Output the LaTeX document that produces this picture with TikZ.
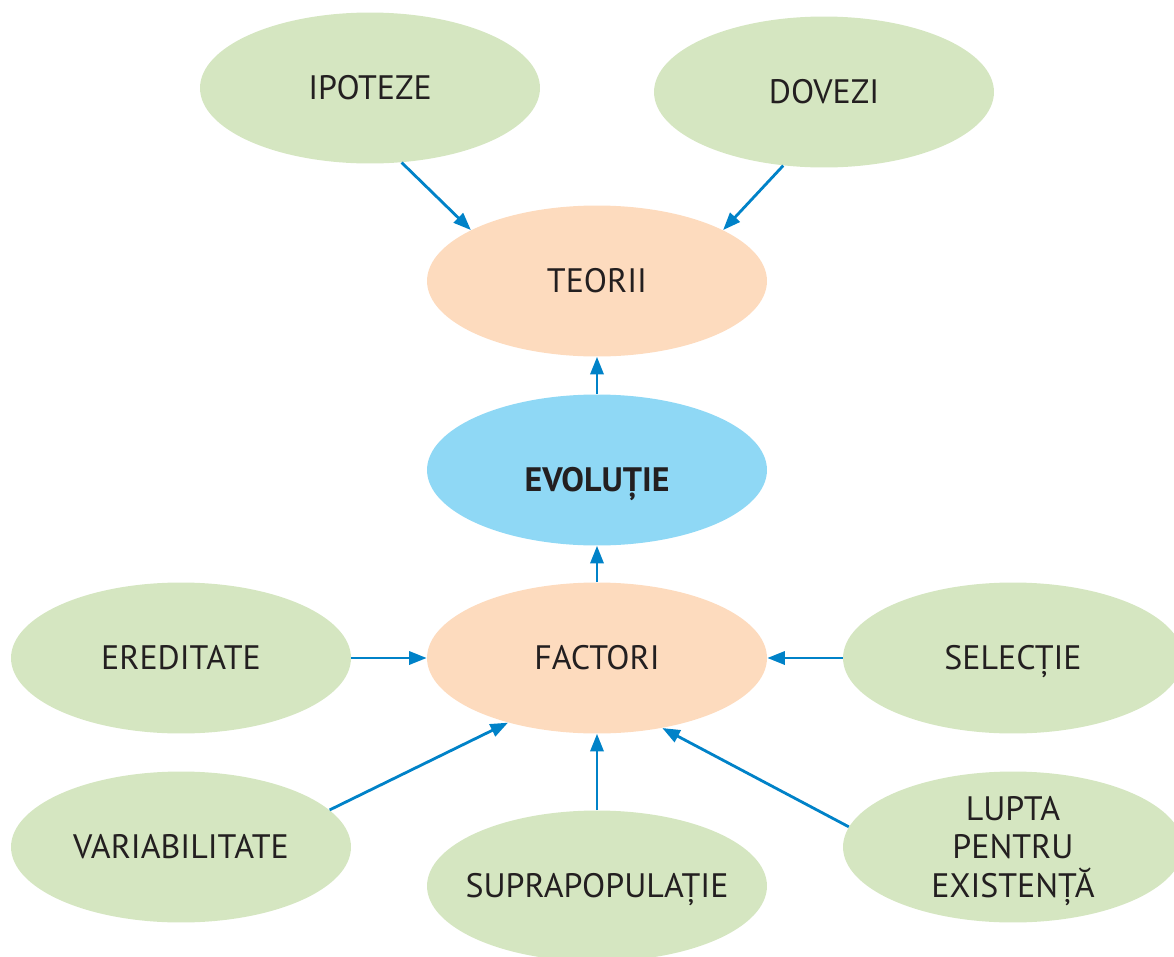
\documentclass[tikz,border=0pt]{standalone}
\usepackage{fontspec}
\setmainfont{PT Sans}
\usepackage{xcolor}
\usetikzlibrary{arrows.meta,shapes.geometric}
\definecolor{leafgreen}{RGB}{213,230,193}
\definecolor{peach}{RGB}{253,219,190}
\definecolor{skyblue}{RGB}{143,216,245}
\definecolor{arrowblue}{RGB}{0,130,200}
\definecolor{inkdark}{RGB}{35,31,32}

\begin{document}
\begin{tikzpicture}[x=0.02cm,y=-0.02cm,>={Triangle[length=10pt,width=7.5pt]},
  ell/.style={ellipse,inner sep=0pt,minimum width=6.8cm,minimum height=3.02cm,
              align=center,text=inkdark,text height=13.5pt,text depth=0pt,
              font=\fontsize{19.3}{21.8}\selectfont},
  ge/.style={ell,fill=leafgreen},
  pe/.style={ell,fill=peach},
  be/.style={ell,fill=skyblue,font=\fontsize{19.3}{21.8}\selectfont\bfseries},
  link/.style={->,line width=1.6pt,color=arrowblue}]
  \useasboundingbox (0,0) rectangle (1174,957);

  % top row and the centre column
  \node[ge](ipoteze) at (370,88)   {IPOTEZE};
  \node[ge](dovezi)  at (824,92)   {DOVEZI};
  \node[pe](teorii)  at (597,281)  {TEORII};
  \node[be,text height=25pt](evol) at (597,470) {EVOLUȚIE};
  \node[pe](factori) at (597,658)  {FACTORI};

  % the factors around it
  \node[ge](ered)    at (181,658)  {EREDITATE};
  \node[ge](selectie) at (1013,658) {SELECȚIE};
  \node[ge](variab)  at (181,847)  {VARIABILITATE};
  \node[ge](suprap)  at (597,886)  {\makebox[4cm]{SUPRAPOPULAȚIE}};
  \node[ge,text height=57.1pt](lupta) at (1013,847) {LUPTA\\PENTRU\\EXISTENȚĂ};

  \foreach \i/\j in {ipoteze.-67/teorii.158,dovezi.-119/teorii.22,
                     evol.north/teorii.south,factori.north/evol.south,
                     ered.east/factori.west,selectie.west/factori.east,
                     variab.14/factori.-144,suprap.north/factori.south,
                     lupta.173/factori.-47}{
    \draw[link](\i)--(\j);}
\end{tikzpicture}
\end{document}
